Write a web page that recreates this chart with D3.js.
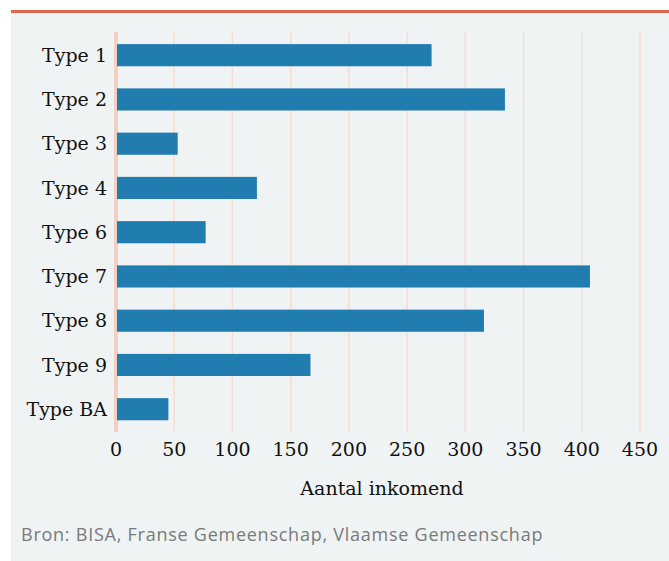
<!DOCTYPE html>
<html>
<head>
<meta charset="utf-8">
<script src="https://cdn.jsdelivr.net/npm/d3@7"></script>
<style>
  body { margin: 0; background: #fff; }
</style>
</head>
<body>
<svg width="669" height="561"></svg>
<script>
// Chart data
const categories = ["Type 1", "Type 2", "Type 3", "Type 4", "Type 6", "Type 7", "Type 8", "Type 9", "Type BA"];
const values = [271, 334, 53, 121, 77, 407, 316, 167, 45];
const tickValues = [0, 50, 100, 150, 200, 250, 300, 350, 400, 450];

const svg = d3.select("svg");

// Panel background and red top rule
svg.append("rect")
    .attr("x", 11).attr("y", 13)
    .attr("width", 658).attr("height", 548)
    .attr("fill", "#eff3f4");
svg.append("rect")
    .attr("x", 11).attr("y", 10)
    .attr("width", 658).attr("height", 3)
    .attr("fill", "#df654b");

const x = d3.scaleLinear().domain([0, 450]).range([116, 640]);
const y = d3.scaleBand().domain(categories).range([22, 442.4]).padding(0.5);

// Gridlines
svg.append("g")
  .selectAll("line")
  .data(tickValues)
  .enter().append("line")
    .attr("x1", d => x(d)).attr("x2", d => x(d))
    .attr("y1", 32).attr("y2", 432)
    .attr("stroke", d => d === 0 ? "#f3cfc3" : "#f6dcd3")
    .attr("stroke-width", d => d === 0 ? 4 : 1.5);

// Bars
svg.append("g")
  .selectAll("rect")
  .data(categories)
  .enter().append("rect")
    .attr("x", x(0) + 1)
    .attr("y", d => y(d))
    .attr("width", (d, i) => x(values[i]) - x(0) - 1)
    .attr("height", y.bandwidth())
    .attr("fill", "#217caf");

// Category labels
svg.append("g")
  .selectAll("text")
  .data(categories)
  .enter().append("text")
    .attr("x", 107)
    .attr("y", d => y(d) + y.bandwidth() / 2)
    .attr("dy", "0.35em")
    .attr("text-anchor", "end")
    .attr("font-family", "DejaVu Serif")
    .attr("font-size", "19px")
    .attr("fill", "#111")
    .text(d => d);

// X tick labels
svg.append("g")
  .selectAll("text")
  .data(tickValues)
  .enter().append("text")
    .attr("x", d => x(d))
    .attr("y", 449)
    .attr("dy", "0.35em")
    .attr("text-anchor", "middle")
    .attr("font-family", "DejaVu Serif")
    .attr("font-size", "19px")
    .attr("fill", "#111")
    .text(d => d);

// Axis title
svg.append("text")
    .attr("x", 382).attr("y", 488)
    .attr("dy", "0.35em")
    .attr("text-anchor", "middle")
    .attr("font-family", "DejaVu Serif")
    .attr("font-size", "19px")
    .attr("fill", "#111")
    .text("Aantal inkomend");

// Source
svg.append("text")
    .attr("x", 21).attr("y", 535)
    .attr("dy", "0.35em")
    .attr("font-family", "Open Sans")
    .attr("font-size", "18px")
    .attr("letter-spacing", "0.75px")
    .attr("fill", "#7a7a7a")
    .text("Bron: BISA, Franse Gemeenschap, Vlaamse Gemeenschap");
</script>
</body>
</html>
